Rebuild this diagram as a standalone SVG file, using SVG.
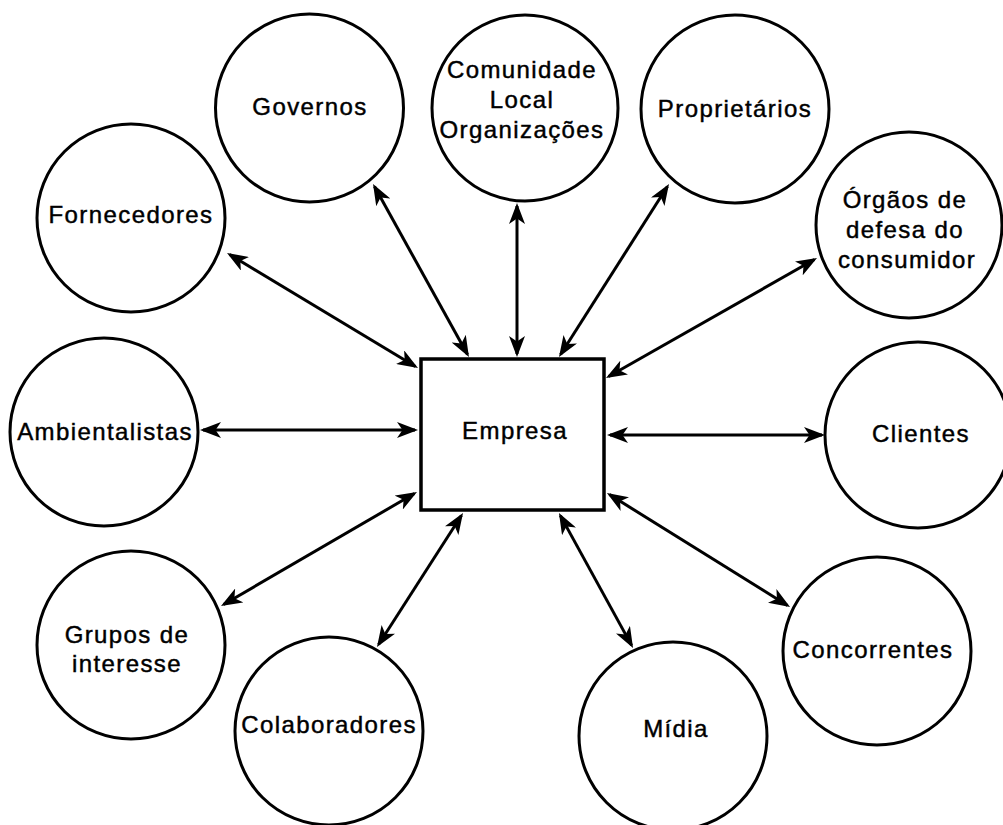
<svg xmlns="http://www.w3.org/2000/svg" width="1003" height="825" viewBox="0 0 1003 825">
  <style>
    .bg { fill: #ffffff; }
    .node { fill: #ffffff; stroke: #000000; stroke-width: 3; }
    .box { fill: #ffffff; stroke: #000000; stroke-width: 3.5; }
    .label { font-family: "Liberation Sans", Arial, sans-serif; font-size: 24px; fill: #000000; stroke: #000000; stroke-width: 0.45px; text-anchor: middle; letter-spacing: 1.4px; }
    .link { stroke: #000000; stroke-width: 3; fill: none; marker-start: url(#head); marker-end: url(#head); }
  </style>
  <defs>
    <!-- notched filled arrowhead used at both ends of every link -->
    <marker id="head" viewBox="0 0 21 16" markerUnits="userSpaceOnUse" markerWidth="21" markerHeight="16" refX="18" refY="8" orient="auto-start-reverse">
      <path d="M0,0 L21,8 L0,16 L5.5,8 Z" fill="#000000"/>
    </marker>
  </defs>
  <rect class="bg" x="0" y="0" width="1003" height="825"/>

  <!-- two-way links between the company and each stakeholder -->
  <g id="connectors">
    <line class="link" x1="374.5" y1="186.6" x2="467.5" y2="354.4"/>
    <line class="link" x1="517" y1="206" x2="517" y2="354"/>
    <line class="link" x1="667.4" y1="186.5" x2="560.6" y2="354.5"/>
    <line class="link" x1="814.4" y1="259.5" x2="608.6" y2="376.5"/>
    <line class="link" x1="822" y1="435" x2="610" y2="435"/>
    <line class="link" x1="787.5" y1="605.4" x2="609.5" y2="494.6"/>
    <line class="link" x1="631.6" y1="645.4" x2="560.4" y2="515.6"/>
    <line class="link" x1="378.6" y1="644.5" x2="461.4" y2="515.5"/>
    <line class="link" x1="223.6" y1="604.5" x2="414.4" y2="493.5"/>
    <line class="link" x1="203" y1="430" x2="415" y2="430"/>
    <line class="link" x1="229.6" y1="254.5" x2="415.4" y2="366.5"/>
  </g>

  <g id="empresa">
    <rect class="box" x="421" y="359" width="183" height="151"/>
    <text class="label" x="515" y="439">Empresa</text>
  </g>

  <g id="governos">
    <circle class="node" cx="309.5" cy="108" r="94"/>
    <text class="label" x="310" y="115">Governos</text>
  </g>

  <g id="comunidade">
    <circle class="node" cx="525" cy="108" r="93"/>
    <text class="label" x="522" y="78">Comunidade</text>
    <text class="label" x="522" y="108">Local</text>
    <text class="label" x="522" y="138">Organizações</text>
  </g>

  <g id="proprietarios">
    <circle class="node" cx="735" cy="109" r="94"/>
    <text class="label" x="735" y="117">Proprietários</text>
  </g>

  <g id="orgaos-defesa">
    <circle class="node" cx="909" cy="225" r="93"/>
    <text class="label" x="905" y="208">Órgãos de</text>
    <text class="label" x="905" y="238">defesa do</text>
    <text class="label" x="907" y="268">consumidor</text>
  </g>

  <g id="fornecedores">
    <circle class="node" cx="131" cy="218" r="94"/>
    <text class="label" x="131" y="223">Fornecedores</text>
  </g>

  <g id="ambientalistas">
    <circle class="node" cx="104" cy="432" r="94"/>
    <text class="label" x="105" y="440">Ambientalistas</text>
  </g>

  <g id="clientes">
    <circle class="node" cx="918" cy="435" r="93"/>
    <text class="label" x="921" y="442">Clientes</text>
  </g>

  <g id="grupos-interesse">
    <circle class="node" cx="131" cy="645" r="94"/>
    <text class="label" x="127" y="643">Grupos de</text>
    <text class="label" x="127" y="672">interesse</text>
  </g>

  <g id="colaboradores">
    <circle class="node" cx="329" cy="731" r="94"/>
    <text class="label" x="329" y="733">Colaboradores</text>
  </g>

  <g id="midia">
    <circle class="node" cx="673" cy="736" r="94"/>
    <text class="label" x="676" y="737">Mídia</text>
  </g>

  <g id="concorrentes">
    <circle class="node" cx="877" cy="651" r="94"/>
    <text class="label" x="873" y="658">Concorrentes</text>
  </g>
</svg>
